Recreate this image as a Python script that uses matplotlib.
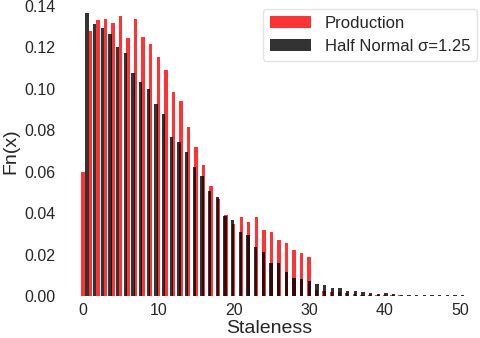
import numpy as np
import matplotlib.pyplot as plt

# --- data ---
# Production staleness frequencies, one per integer staleness value
prod_staleness = np.arange(44)
prod_freq = [
    0.060, 0.128, 0.1334, 0.1337, 0.1317, 0.135, 0.1246, 0.1339, 0.1252, 0.1217,
    0.1156, 0.109, 0.0984, 0.0942, 0.0817, 0.0719, 0.0634, 0.0533, 0.047, 0.0392,
    0.0349, 0.0385, 0.0358, 0.0383, 0.032, 0.0312, 0.0272, 0.026, 0.0224, 0.021,
    0.0191, 0.0033, 0.0028, 0.0023, 0.0022, 0.0015, 0.001, 0.0007, 0.0006, 0.0006,
    0.0005, 0.0005, 0.0007, 0.0004,
]

# Half normal fit, histogram over 50 bins between the sample min and max
hn_lo, hn_hi, hn_bins = 0.03, 50.9, 50
hn_freq = [
    0.1365, 0.1313, 0.1293, 0.1265, 0.1201, 0.1174, 0.1077, 0.1034, 0.1000, 0.0929,
    0.088, 0.077, 0.0745, 0.0697, 0.0623, 0.0579, 0.0507, 0.0478, 0.0388, 0.0369,
    0.0309, 0.0296, 0.0239, 0.0215, 0.016, 0.016, 0.012, 0.0089, 0.0084, 0.0075,
    0.006, 0.0054, 0.0041, 0.0041, 0.0027, 0.0027, 0.0022, 0.0015, 0.0012, 0.0017,
    0.0012, 0.0008, 0.0008, 0.0008, 0.0007, 0.0006, 0.0006, 0.0006, 0.0005, 0.0005,
]
sigma = 1.25

x_ticks = [0, 10, 20, 30, 40, 50]
y_ticks = [0.00, 0.02, 0.04, 0.06, 0.08, 0.10, 0.12, 0.14]

# --- plot ---
plt.rcParams['font.family'] = ['Liberation Sans', 'DejaVu Sans']
text_color = '#262626'

fig = plt.figure(figsize=(4.8, 3.38), dpi=100)
ax = fig.add_axes([0.1334, 0.1228, 0.856, 0.8595])

edges = np.linspace(hn_lo, hn_hi, hn_bins + 1)
hn_centers = (edges[:-1] + edges[1:]) / 2

ax.bar(prod_staleness, prod_freq, width=0.45, color='red', alpha=0.8,
       label='Production')
ax.bar(hn_centers, hn_freq, width=0.45, color='black', alpha=0.8,
       label='Half Normal \u03c3=%.2f' % sigma)

ax.set_xlim(-2.5, 52)
ax.set_ylim(0, 0.14)
ax.set_xticks(x_ticks)
ax.set_yticks(y_ticks)
ax.set_yticklabels(['%.2f' % t for t in y_ticks])
ax.tick_params(length=0, labelsize=11.5, colors=text_color, pad=6)
ax.tick_params(axis='x', pad=5)

for s in ax.spines.values():
    s.set_visible(False)

ax.set_xlabel('Staleness', fontsize=14, color=text_color, labelpad=1)
ax.set_ylabel('Fn(x)', fontsize=14, color=text_color, labelpad=4)

leg = ax.legend(loc='upper right', fontsize=12, handlelength=2.5,
                frameon=True, fancybox=True, borderaxespad=0.0,
                bbox_to_anchor=(1.005, 0.99))
leg.get_frame().set_edgecolor('#dddddd')
for t in leg.get_texts():
    t.set_color(text_color)

fig.savefig('out.png', dpi=100)
